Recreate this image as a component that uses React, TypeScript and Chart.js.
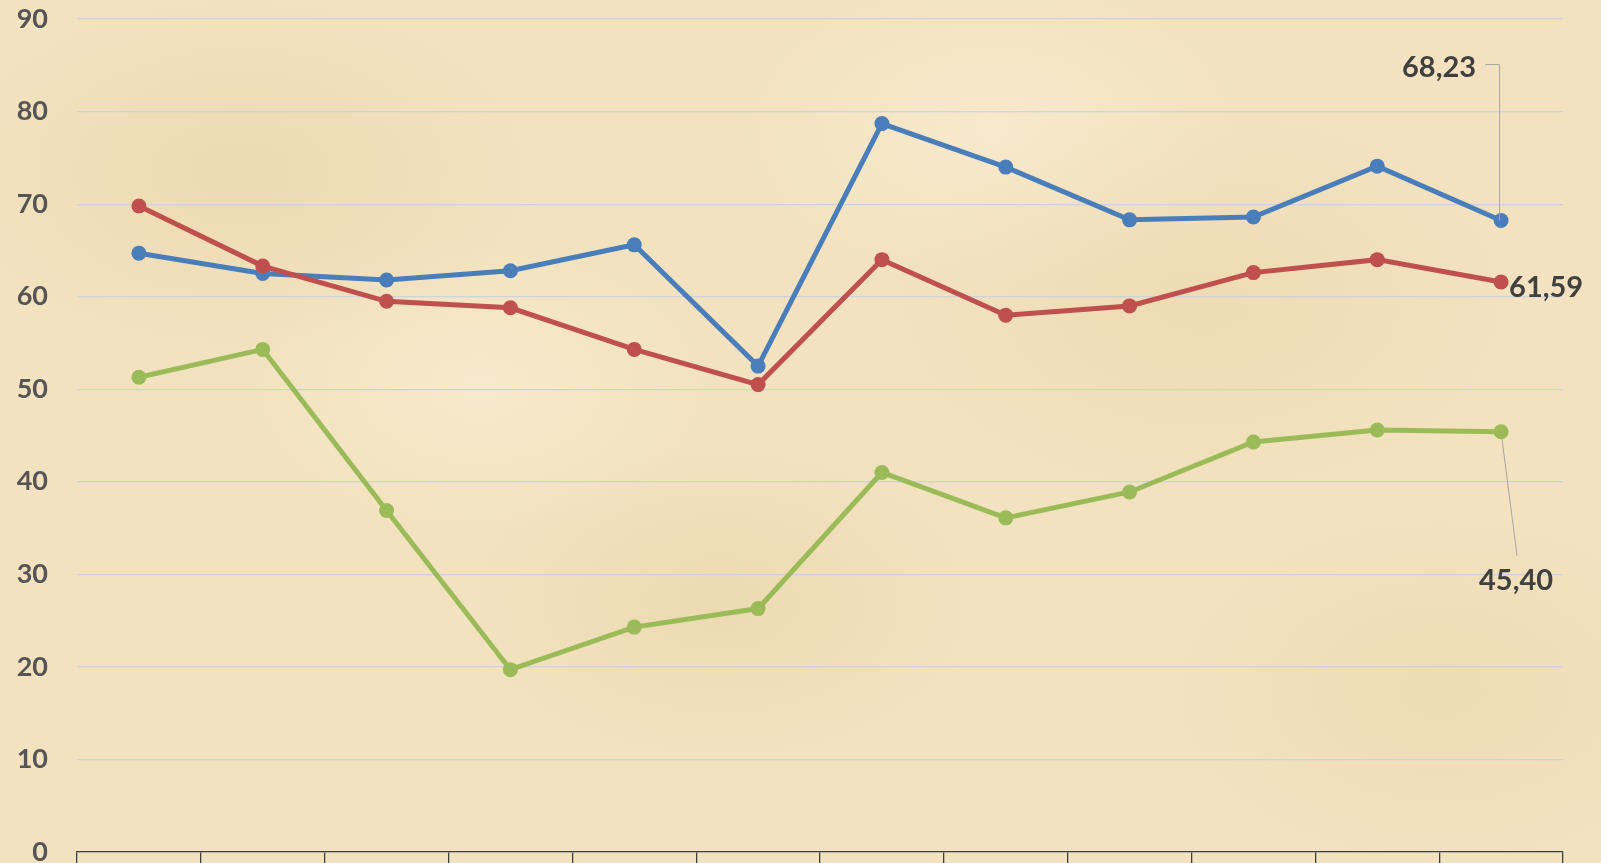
import React, { useEffect, useRef } from "react";
import { Chart, registerables } from "chart.js";

Chart.register(...registerables);

const categories = ["1", "2", "3", "4", "5", "6", "7", "8", "9", "10", "11", "12"];
const blueSeries = [64.7, 62.5, 61.8, 62.8, 65.6, 52.5, 78.7, 74.0, 68.3, 68.6, 74.1, 68.23];
const redSeries = [69.8, 63.3, 59.5, 58.8, 54.3, 50.5, 64.0, 58.0, 59.0, 62.6, 64.0, 61.59];
const greenSeries = [51.3, 54.3, 36.9, 19.7, 24.3, 26.3, 41.0, 36.1, 38.9, 44.3, 45.6, 45.4];
const yTicks = [0, 10, 20, 30, 40, 50, 60, 70, 80, 90];

const BLUE = "#4A7EBB";
const RED = "#C0504D";
const GREEN = "#9BBB59";

const fmt = (v: number) => v.toFixed(2).replace(".", ",");

const lastLabelsPlugin = {
  id: "lastLabels",
  afterDatasetsDraw(chart: any) {
    const ctx = chart.ctx;
    ctx.save();
    ctx.font = "bold 29px Lato";
    ctx.fillStyle = "#404040";
    ctx.strokeStyle = "#A6A6A6";
    ctx.lineWidth = 1;
    const pt = (i: number) => {
      const meta = chart.getDatasetMeta(i);
      const el = meta.data[meta.data.length - 1];
      return { x: el.x, y: el.y };
    };
    // blue
    const b = pt(0);
    ctx.beginPath();
    ctx.moveTo(b.x - 16, b.y - 156);
    ctx.lineTo(b.x - 1.5, b.y - 156);
    ctx.lineTo(b.x - 1.5, b.y);
    ctx.stroke();
    ctx.textAlign = "right";
    ctx.textBaseline = "middle";
    ctx.fillText(fmt(blueSeries[blueSeries.length - 1]), b.x - 25, b.y - 153);
    // red
    const r = pt(1);
    ctx.textAlign = "left";
    ctx.fillText(fmt(redSeries[redSeries.length - 1]), r.x + 8, r.y + 6);
    // green
    const g = pt(2);
    ctx.beginPath();
    ctx.moveTo(g.x, g.y);
    ctx.lineTo(g.x + 16, g.y + 124);
    ctx.stroke();
    ctx.textAlign = "center";
    ctx.fillText(fmt(greenSeries[greenSeries.length - 1]), g.x + 15, g.y + 149);
    ctx.restore();
  },
};

export default function App() {
  const ref = useRef<HTMLCanvasElement | null>(null);
  useEffect(() => {
    document.body.style.margin = "0";
    if (!ref.current) return;
    const mk = (label: string, data: number[], color: string, order: number) => ({
      label,
      data,
      borderColor: color,
      backgroundColor: color,
      borderWidth: 5,
      pointRadius: 7.5,
      pointBorderWidth: 0,
      pointBackgroundColor: color,
      tension: 0,
      order,
    });
    const chart = new Chart(ref.current, {
      type: "line",
      data: {
        labels: categories,
        datasets: [
          mk("Series 1", blueSeries, BLUE, 3),
          mk("Series 2", redSeries, RED, 2),
          mk("Series 3", greenSeries, GREEN, 1),
        ],
      },
      options: {
        animation: false,
        responsive: false,
        maintainAspectRatio: false,
        layout: { padding: { top: 19, left: 0, right: 38, bottom: 0 } },
        plugins: { legend: { display: false }, tooltip: { enabled: false } },
        scales: {
          x: {
            offset: true,
            ticks: { display: false },
            grid: {
              offset: true,
              drawOnChartArea: false,
              drawTicks: true,
              tickLength: 11,
              color: "#404040",
              lineWidth: 1.3,
            },
            border: { display: true, color: "#404040", width: 1.3 },
            afterFit: (s: any) => {
              s.height = 11;
              s.paddingLeft = 0;
              s.paddingRight = 0;
            },
          },
          y: {
            min: 0,
            max: 90,
            afterBuildTicks: (s: any) => {
              s.ticks = yTicks.map((v) => ({ value: v }));
            },
            ticks: {
              color: "#555555",
              padding: 29,
              font: { family: "Lato", size: 27, weight: "bold", lineHeight: 0.8 },
            },
            grid: { color: "#CCD3DE", lineWidth: 1.2, drawTicks: false },
            border: { display: false },
            afterFit: (s: any) => {
              s.width = 77;
              s.paddingTop = 0;
              s.paddingBottom = 0;
            },
          },
        },
      },
      plugins: [lastLabelsPlugin],
    });
    return () => chart.destroy();
  }, []);

  const bg =
    "radial-gradient(ellipse 300px 180px at 15% 20%, rgba(225,200,150,0.3), transparent)," +
    "radial-gradient(ellipse 260px 160px at 45% 70%, rgba(225,200,150,0.3), transparent)," +
    "radial-gradient(ellipse 320px 200px at 75% 35%, rgba(225,200,150,0.25), transparent)," +
    "radial-gradient(ellipse 280px 180px at 90% 80%, rgba(225,200,150,0.25), transparent)," +
    "radial-gradient(ellipse 240px 150px at 30% 45%, rgba(252,240,216,0.5), transparent)," +
    "radial-gradient(ellipse 260px 160px at 62% 15%, rgba(252,240,216,0.5), transparent)," +
    "#F2E2BF";

  return (
    <div
      style={{
        position: "fixed",
        left: 0,
        top: 0,
        width: 1601,
        height: 863,
        overflow: "hidden",
        background: bg,
      }}
    >
      <canvas ref={ref} width={1601} height={863} style={{ display: "block" }} />
    </div>
  );
}
